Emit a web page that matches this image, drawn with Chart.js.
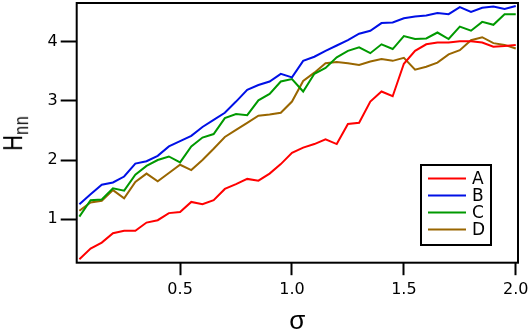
<!DOCTYPE html>
<html>
<head>
<meta charset="utf-8">
<script src="https://cdn.jsdelivr.net/npm/chart.js@4"></script>
<style>
body{margin:0;background:#fff;}
#wrap{position:relative;width:529px;height:330px;}
#ylab{position:absolute;left:14px;top:133px;transform:translate(-50%,-50%) rotate(-90deg) scale(1,1.22);
  font-family:"Liberation Sans",Arial,sans-serif;font-size:22px;line-height:1;white-space:nowrap;color:#000;}
#ylab sub{font-size:16px;vertical-align:-0.3em;line-height:0;letter-spacing:1px;}
</style>
</head>
<body>
<div id="wrap">
<canvas id="myChart" width="529" height="330"></canvas>
<div id="ylab">H<sub>nn</sub></div>
</div>
<script>
// sigma values (x)
const sigma = [0.05,0.10,0.15,0.20,0.25,0.30,0.35,0.40,0.45,0.50,
               0.55,0.60,0.65,0.70,0.75,0.80,0.85,0.90,0.95,1.00,
               1.05,1.10,1.15,1.20,1.25,1.30,1.35,1.40,1.45,1.50,
               1.55,1.60,1.65,1.70,1.75,1.80,1.85,1.90,1.95,2.00];

const serieA = [0.32,0.50,0.60,0.76,0.80,0.80,0.94,0.98,1.10,1.12,
                1.29,1.25,1.32,1.51,1.59,1.68,1.65,1.77,1.93,2.12,
                2.21,2.27,2.35,2.27,2.61,2.63,2.99,3.16,3.08,3.63,
                3.85,3.96,3.99,3.99,4.01,4.01,3.99,3.92,3.93,3.95];
const serieB = [1.25,1.42,1.58,1.62,1.72,1.94,1.98,2.07,2.23,2.32,
                2.41,2.56,2.68,2.80,2.99,3.19,3.27,3.33,3.46,3.40,
                3.68,3.75,3.85,3.94,4.03,4.14,4.19,4.32,4.33,4.40,
                4.43,4.45,4.49,4.47,4.59,4.51,4.58,4.60,4.56,4.61];
const serieC = [1.04,1.32,1.33,1.52,1.48,1.75,1.90,2.00,2.06,1.96,
                2.23,2.38,2.44,2.71,2.78,2.76,3.01,3.12,3.33,3.37,
                3.16,3.46,3.56,3.74,3.85,3.91,3.81,3.96,3.88,4.10,
                4.05,4.06,4.16,4.05,4.26,4.19,4.34,4.29,4.47,4.47];
const serieD = [1.14,1.28,1.31,1.49,1.35,1.63,1.77,1.64,1.78,1.92,
                1.83,2.00,2.19,2.39,2.51,2.63,2.75,2.77,2.80,2.99,
                3.34,3.48,3.64,3.66,3.64,3.61,3.67,3.71,3.68,3.73,
                3.53,3.58,3.65,3.79,3.86,4.03,4.08,3.98,3.95,3.89];

const nombres = ["A","B","C","D"];
const colores = ["#ff0000","#0010e6","#009900","#996600"];
const xTicks = [0.5,1.0,1.5,2.0];
const yTicks = [1,2,3,4];

const fuente = '"DejaVu Sans", sans-serif';

function puntos(serie){
    return serie.map((v,i) => ({x: sigma[i], y: v}));
}

// marco y leyenda
const marco = {
    id: 'marco',
    afterDraw(chart){
        const ctx = chart.ctx;
        const a = chart.chartArea;
        ctx.save();
        ctx.strokeStyle = '#000';
        ctx.lineWidth = 2;
        ctx.strokeRect(a.left, a.top, a.right - a.left, a.bottom - a.top);

        // leyenda
        const lx = 421, ly = 165, lw = 70, lh = 80;
        ctx.fillStyle = '#fff';
        ctx.fillRect(lx, ly, lw, lh);
        ctx.strokeRect(lx, ly, lw, lh);
        ctx.font = '17px ' + fuente;
        ctx.textBaseline = 'middle';
        ctx.fillStyle = '#000';
        nombres.forEach((n,i) => {
            const y = 178.5 + i*17;
            ctx.strokeStyle = colores[i];
            ctx.lineWidth = 2;
            ctx.beginPath();
            ctx.moveTo(428, y);
            ctx.lineTo(466, y);
            ctx.stroke();
            ctx.fillText(n, 472, y + 1);
        });
        ctx.restore();
    }
};

const series = [serieA, serieB, serieC, serieD];

const ctx = document.getElementById('myChart');
let myChart = new Chart(ctx, {
    type: 'line',
    data: {
        datasets: series.map((s,i) => ({
            label: nombres[i],
            data: puntos(s),
            borderColor: colores[i],
            backgroundColor: colores[i],
            borderWidth: 2,
            pointRadius: 0,
            tension: 0,
            fill: false
        }))
    },
    options: {
        responsive: false,
        animation: false,
        devicePixelRatio: 1,
        layout: { padding: { top: 3, right: 11, left: 0, bottom: 0 } },
        plugins: { legend: { display: false }, tooltip: { enabled: false } },
        scales: {
            x: {
                type: 'linear',
                min: 0.038,
                max: 2.01,
                afterBuildTicks: (s) => { s.ticks = xTicks.map(v => ({value: v})); },
                afterFit: (s) => { s.height = 67.3; s.paddingLeft = 0; s.paddingRight = 0; },
                ticks: {
                    callback: (v) => v.toFixed(1),
                    color: '#000',
                    font: { family: fuente, size: 16 },
                    padding: 5,
                    maxRotation: 0
                },
                grid: { drawOnChartArea: false, drawTicks: true, tickLength: 12.5, tickWidth: 2, tickColor: '#000' },
                border: { display: false },
                title: {
                    display: true,
                    text: 'σ',
                    color: '#000',
                    font: { family: '"Liberation Sans", Arial, sans-serif', size: 26 },
                    padding: { top: 0, bottom: -7 }
                }
            },
            y: {
                type: 'linear',
                min: 0.26,
                max: 4.66,
                afterBuildTicks: (s) => { s.ticks = yTicks.map(v => ({value: v})); },
                afterFit: (s) => { s.width = 76.7; s.paddingTop = 0; s.paddingBottom = 0; },
                ticks: {
                    color: '#000',
                    font: { family: fuente, size: 16 },
                    padding: 3
                },
                grid: { drawOnChartArea: false, drawTicks: true, tickLength: 16, tickWidth: 2, tickColor: '#000' },
                border: { display: false }
            }
        }
    },
    plugins: [marco]
});
</script>
</body>
</html>
